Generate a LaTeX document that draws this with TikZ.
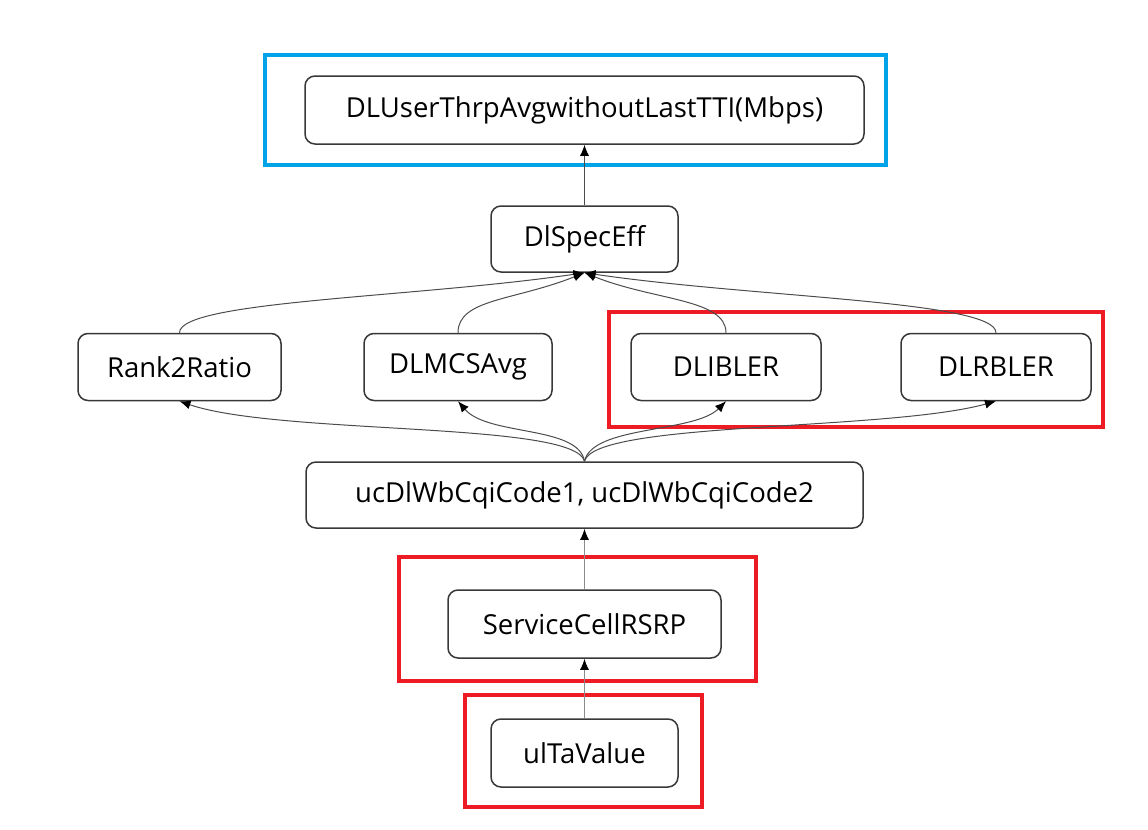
\documentclass[tikz,border=0pt]{standalone}
\usepackage{fontspec}
\setmainfont{Open Sans}
\usetikzlibrary{arrows.meta}
\definecolor{markred}{HTML}{ED1C24}
\definecolor{markblue}{HTML}{00A2E8}
\tikzset{
  box/.style={draw=black!78, line width=0.75pt, rounded corners=5pt, fill=white,
    inner sep=0pt, font=\fontsize{13.75}{16}\selectfont},
  link/.style={draw=black!70, line width=0.5pt},
  linkgray/.style={draw=black!45, line width=0.6pt},
  frame/.style={line width=2pt}
}
\begin{document}
\begin{tikzpicture}[x=0.5pt, y=-0.5pt, >={Latex[length=5.5pt, width=4.5pt, color=black]}]
\useasboundingbox (0,0) rectangle (1148,830);

\draw 

(584.5,110) node[box, minimum width=279.5pt, minimum height=34pt](thr){DLUserThrpAvgwithoutLastTTI(Mbps)}
(584.5,239) node[box, minimum width=93.5pt, minimum height=33pt](spec){DlSpecEff}
(179.5,367) node[box, minimum width=101.5pt, minimum height=33.5pt](r2r){Rank2Ratio}
(458,367) node[box, minimum width=94pt, minimum height=33.5pt](mcs){DLMCSAvg}
(726,367) node[box, minimum width=95pt, minimum height=33.5pt](ibler){DLIBLER}
(996,367) node[box, minimum width=95pt, minimum height=33.5pt](rbler){DLRBLER}
(584.5,495) node[box, minimum width=278.5pt, minimum height=33pt](cqi){ucDlWbCqiCode1, ucDlWbCqiCode2}
(584.5,624) node[box, minimum width=136.5pt, minimum height=34pt](rsrp){ServiceCellRSRP}
(584.5,753) node[box, minimum width=93.5pt, minimum height=34pt](ta){ulTaValue};

% marked groups
\draw[frame, markblue] (265,55) rectangle (886,165);
\draw[frame, markred] (609,312) rectangle (1103,427);
\draw[frame, markred] (399,557) rectangle (756,681);
\draw[frame, markred] (465,695) rectangle (702,807);


\draw[->, link] (spec) -- (thr);
\draw[->, link] (r2r.north) .. controls +(0,-32) and +(-170,25) .. (spec.south);
\draw[->, link] (mcs.north) .. controls +(0,-34) and +(-70,28) .. (spec.south);
\draw[->, link] (ibler.north) .. controls +(0,-34) and +(70,28) .. (spec.south);
\draw[->, link] (rbler.north) .. controls +(0,-32) and +(170,25) .. (spec.south);

\draw[->, link] (cqi.north) .. controls +(-10,-40) and +(100,34) .. (r2r.south);
\draw[->, link] (cqi.north) .. controls +(-6,-36) and +(30,35) .. (mcs.south);
\draw[->, link] (cqi.north) .. controls +(8,-36) and +(-32,32) .. (ibler.south);
\draw[->, link] (cqi.north) .. controls +(10,-40) and +(-110,30) .. (rbler.south);

\draw[->, linkgray] (rsrp) -- (cqi);
\draw[->, linkgray] (ta) -- (rsrp);


\end{tikzpicture}
\end{document}
